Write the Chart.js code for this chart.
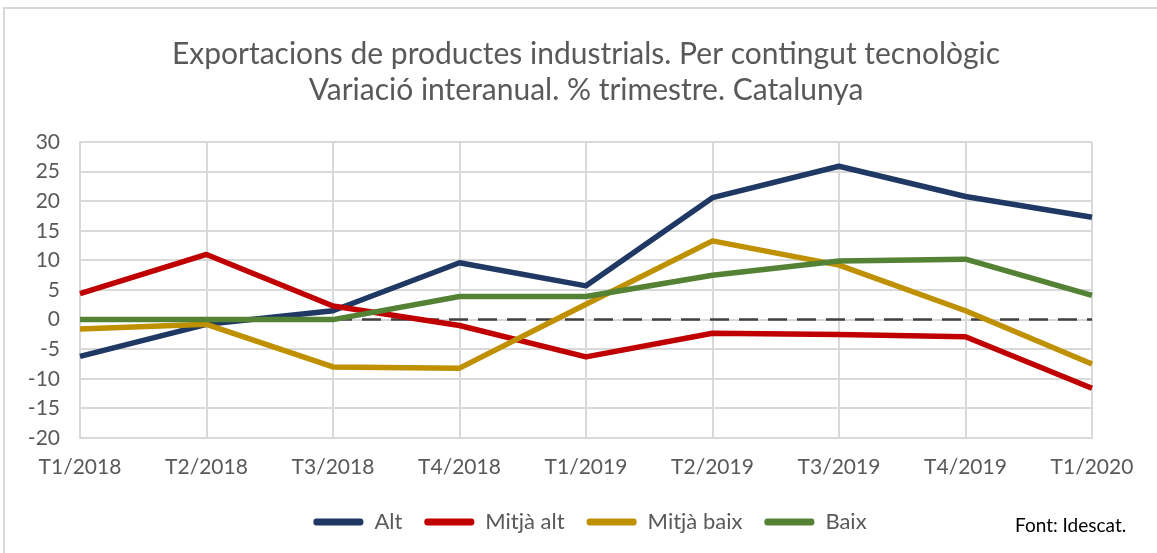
<!DOCTYPE html>
<html>
<head>
<meta charset="utf-8">
<script src="https://cdn.jsdelivr.net/npm/chart.js@4"></script>
<style>
  body { margin: 0; background: #fff; }
  #wrap { width: 1157px; height: 553px; }
</style>
</head>
<body>
<div id="wrap"><canvas id="chart" width="1157" height="553"></canvas></div>
<script>
// data
const quarters = ["T1/2018", "T2/2018", "T3/2018", "T4/2018", "T1/2019", "T2/2019", "T3/2019", "T4/2019", "T1/2020"];
const alt = [-6.2, -0.8, 1.5, 9.6, 5.7, 20.6, 25.9, 20.8, 17.3];
const mitjaAlt = [4.4, 11.0, 2.3, -1.0, -6.3, -2.3, -2.5, -2.9, -11.6];
const mitjaBaix = [-1.6, -0.8, -8.0, -8.2, 2.6, 13.3, 9.2, 1.5, -7.5];
const baix = [0.0, 0.0, 0.0, 3.9, 3.9, 7.5, 9.9, 10.2, 4.1];
const zeroLine = [null, null, 0, 0, 0, 0, 0, 0, 0];

const FONT = "Lato";
const GREY = "#595959";

// frame, source note, and centring title/legend on the full width
const extras = {
  id: "extras",
  afterLayout(chart) {
    chart.titleBlock.left += 40;
    chart.titleBlock.right += 40;
    chart.legend.left += 44;
    chart.legend.right += 44;
  },
  beforeDraw(chart) {
    const ctx = chart.ctx;
    ctx.save();
    ctx.fillStyle = "#fff";
    ctx.fillRect(0, 0, chart.width, chart.height);
    ctx.strokeStyle = "#d9d9d9";
    ctx.lineWidth = 2;
    ctx.beginPath();
    ctx.moveTo(4, chart.height);
    ctx.lineTo(4, 8);
    ctx.lineTo(chart.width, 8);
    ctx.stroke();
    ctx.restore();
  },
  afterDraw(chart) {
    const ctx = chart.ctx;
    ctx.save();
    ctx.fillStyle = "#000";
    ctx.font = "19px " + FONT;
    ctx.textAlign = "left";
    ctx.textBaseline = "middle";
    ctx.fillText("Font: Idescat.", 1015, 526);
    ctx.restore();
  }
};

function series(label, data, color, order) {
  return {
    label: label,
    data: data,
    borderColor: color,
    backgroundColor: color,
    borderWidth: 5.5,
    pointRadius: 0,
    tension: 0,
    borderJoinStyle: "round",
    order: order
  };
}

new Chart(document.getElementById("chart"), {
  type: "line",
  data: {
    labels: quarters,
    datasets: [
      series("Alt", alt, "#1F3864", 4),
      series("Mitjà alt", mitjaAlt, "#C00000", 3),
      series("Mitjà baix", mitjaBaix, "#BF9000", 2),
      series("Baix", baix, "#548235", 1),
      {
        label: "zero",
        data: zeroLine,
        borderColor: "#404040",
        borderWidth: 2.5,
        borderDash: [19, 10],
        pointRadius: 0,
        order: 5
      }
    ]
  },
  options: {
    responsive: false,
    animation: false,
    layout: { padding: { top: 0, left: 0, right: 65, bottom: 10 } },
    scales: {
      x: {
        grid: { color: "#d9d9d9", lineWidth: 2, drawTicks: false },
        border: { color: "#d9d9d9", width: 2 },
        ticks: { color: GREY, font: { family: FONT, size: 21 }, padding: 17, maxRotation: 0 },
        afterFit(scale) { scale.height = 51; }
      },
      y: {
        min: -20,
        max: 30,
        grid: { color: "#d9d9d9", lineWidth: 2, drawTicks: false },
        border: { color: "#d9d9d9", width: 2 },
        ticks: { stepSize: 5, color: GREY, font: { family: FONT, size: 21 }, padding: 20 },
        afterFit(scale) { scale.width = 80; }
      }
    },
    plugins: {
      title: {
        display: true,
        text: ["Exportacions de productes industrials. Per contingut tecnològic", "Variació interanual. % trimestre. Catalunya"],
        color: GREY,
        font: { family: FONT, size: 30, weight: "normal", lineHeight: 1.2 },
        padding: { top: 36, bottom: 34 }
      },
      legend: {
        position: "bottom",
        labels: {
          color: GREY,
          font: { family: FONT, size: 22 },
          boxWidth: 50,
          boxHeight: 7,
          padding: 22,
          useBorderRadius: true,
          borderRadius: 3,
          filter: (item) => item.text !== "zero",
          sort: (a, b) => a.datasetIndex - b.datasetIndex,
          generateLabels(chart) {
            return Chart.defaults.plugins.legend.labels.generateLabels(chart).map((l) => {
              l.lineWidth = 0;
              l.fillStyle = chart.data.datasets[l.datasetIndex].borderColor;
              return l;
            });
          }
        }
      },
      tooltip: { enabled: false }
    }
  },
  plugins: [extras]
});
</script>
</body>
</html>
